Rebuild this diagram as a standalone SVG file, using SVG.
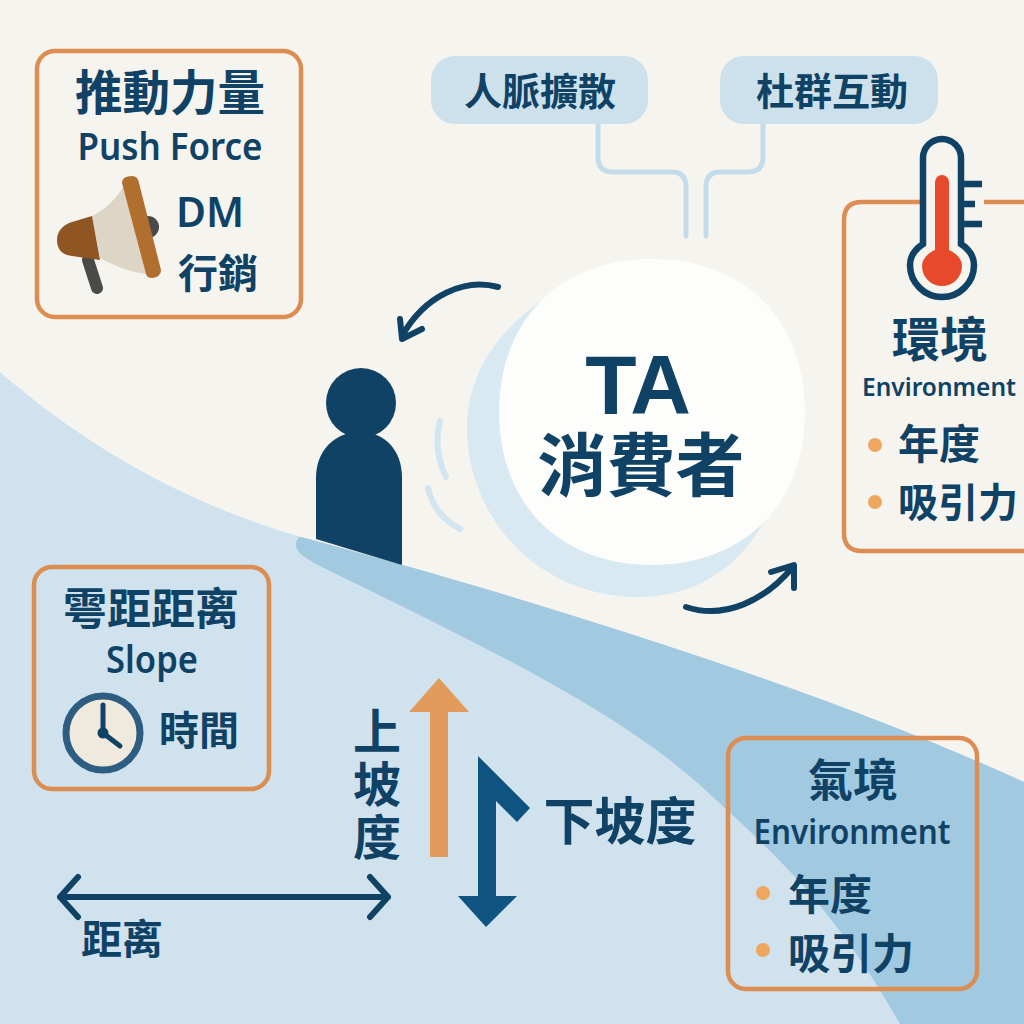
<svg xmlns="http://www.w3.org/2000/svg" width="1024" height="1024" viewBox="0 0 1024 1024">
<style>
text{font-family:"Noto Sans CJK TC","Noto Sans",sans-serif;font-weight:700;fill:#0f4265;text-anchor:middle}
.lat{font-family:"Noto Sans","Liberation Sans",sans-serif;font-weight:600}
.box{fill:none;stroke:#dd8d52;stroke-width:4.5}
.pill{fill:#cde1ec}
.link{fill:none;stroke:#c4dcea;stroke-width:5;stroke-linecap:round}
.flow{fill:none;stroke:#0f4265;stroke-width:6;stroke-linecap:round;stroke-linejoin:round}
.dot{fill:#efa65f}
</style>
<rect id="background" width="1024" height="1024" fill="#f6f4ef"/>
<g id="slope">
<path d="M0,372C90,450 190,505 301,537C500,590 800,680 1024,782V1024H0Z" fill="#cfe2ed"/>
<path d="M301,537C500,590 800,680 1024,782V1024H900C830,900 770,850 700,785C610,705 470,640 320,566C305,558 295,552 296,544Q297,537 301,537Z" fill="#a1c9e0"/>
</g>
<g id="consumer-circle">
<path d="M541,301C492,335 467,380 467,427C467,520 540,597 637,597C695,597 738,568 763,523Z" fill="#d8e9f2"/>
<path d="M652,259C744,259 805,320 805,412C805,504 744,565 652,565C560,565 499,504 499,412C499,320 560,259 652,259Z" fill="#fdfdfb"/>
<text x="638" y="414" font-size="84" style="font-family:'Liberation Sans',sans-serif">TA</text>
<text x="641" y="491" font-size="69">消費者</text>
</g>
<g id="person">
<circle cx="361" cy="403" r="35" fill="#0f4265"/>
<path d="M316,539V478C316,450 335,432 360,432C385,432 402,450 402,478V565Z" fill="#0f4265"/>
</g>
<g id="connectors">
<path class="link" d="M598,124V157Q598,172 613,172H672Q686,172 686,187V236"/>
<path class="link" d="M763,124V157Q763,172 748,172H720Q706,172 706,187V236"/>
<path class="flow" d="M498,287C465,278 425,295 402,336M400,319L402,339L422,329"/>
<path class="flow" d="M686,607C725,620 765,600 792,568M771,572L794,565L794,588"/>
<path d="M440,421C435,440 438,460 446,477M428,488C432,505 443,520 460,529" fill="none" stroke="#d3e5ef" stroke-width="6" stroke-linecap="round"/>
<path class="flow" d="M60,897H388M78,877L60,897L78,917M370,877L388,897L370,917"/>
</g>
<g id="node-social">
<rect class="pill" x="431" y="56" width="217" height="68" rx="24"/>
<text x="540" y="105" font-size="38">人脈擴散</text>
<rect class="pill" x="720" y="56" width="218" height="68" rx="24"/>
<text x="832" y="105" font-size="38">杜群互動</text>
</g>
<g id="node-push">
<rect class="box" x="37" y="51" width="264" height="266" rx="18"/>
<text x="170" y="110" font-size="47.5">推動力量</text>
<text class="lat" x="170" y="160" font-size="38" textLength="185" lengthAdjust="spacingAndGlyphs">Push Force</text>
<circle cx="148" cy="227" r="11" fill="#4a4a48"/>
<path d="M88,260L97,288" stroke="#4a4a48" stroke-width="12" stroke-linecap="round"/>
<path d="M92,216C105,210 115,200 124,186L146,274C130,272 115,266 100,258Z" fill="#ddd5c5"/>
<path d="M92,216L72,222C62,225 57,232 57,240C57,250 63,255 72,256L100,260Z" fill="#8f5522"/>
<path d="M122,183Q122,176 132,176Q138,176 139,183L161,270Q161,277 152,278Q147,278 146,274Z" fill="#b06f2f"/>
<text class="lat" x="210" y="227" font-size="41">DM</text>
<text x="218" y="288" font-size="40">行銷</text>
</g>
<g id="node-environment">
<path class="box" d="M923,202H862Q844,202 844,220V533Q844,551 862,551H1030M984,202H1030"/>
<path d="M923,244V158A19,19 0 0 1 961,158V244C970,250 974,258 974,265A32,32 0 0 1 910,265C910,258 914,250 923,244Z" fill="#f6f4ef" stroke="#0f4265" stroke-width="6.5"/>
<path d="M961,184H982M961,204H975M961,224H982" stroke="#0f4265" stroke-width="6.5"/>
<path d="M935,250V182A7,7 0 0 1 949,182V250C957,254 962,259 962,266A20,20 0 0 1 922,266C922,259 927,254 935,250Z" fill="#e64a2a"/>
<text x="940" y="357" font-size="48">環境</text>
<text class="lat" x="939" y="396" font-size="26" textLength="154" lengthAdjust="spacingAndGlyphs">Environment</text>
<circle class="dot" cx="875" cy="445" r="7"/>
<text x="939" y="459" font-size="41">年度</text>
<circle class="dot" cx="875" cy="502" r="7"/>
<text x="958" y="517" font-size="40">吸引力</text>
</g>
<g id="node-slope">
<rect class="box" x="34" y="567" width="235" height="222" rx="18"/>
<text x="151" y="625" font-size="44">雩距距离</text>
<text class="lat" x="152" y="673" font-size="38" textLength="92" lengthAdjust="spacingAndGlyphs">Slope</text>
<circle cx="103" cy="733" r="37" fill="#efe9de" stroke="#2d5d80" stroke-width="7"/>
<path d="M103,705V733L120,746" fill="none" stroke="#0f4265" stroke-width="5" stroke-linecap="round"/>
<circle cx="103" cy="733" r="5.5" fill="#0f4265"/>
<text x="199" y="745" font-size="40">時間</text>
</g>
<g id="node-gradient">
<text x="377" y="749" font-size="48">上</text>
<text x="377" y="802" font-size="48">坡</text>
<text x="377" y="855" font-size="48">度</text>
<path d="M430,857V712H409L439,678L469,712H448V857Z" fill="#e29b5b"/>
<path d="M478,756L530,808L517,822L496,801V896H517L486,927L458,896H478Z" fill="#0f5480"/>
<text x="620" y="840" font-size="51">下坡度</text>
<text x="122" y="954" font-size="41">距离</text>
</g>
<g id="node-atmosphere">
<rect class="box" x="728" y="738" width="249" height="251" rx="18"/>
<text x="853" y="797" font-size="45">氣境</text>
<text class="lat" x="852" y="844" font-size="34" textLength="197" lengthAdjust="spacingAndGlyphs">Environment</text>
<circle class="dot" cx="763" cy="893" r="7"/>
<text x="830" y="910" font-size="42">年度</text>
<circle class="dot" cx="763" cy="950" r="7"/>
<text x="851" y="969" font-size="42">吸引力</text>
</g>
</svg>
